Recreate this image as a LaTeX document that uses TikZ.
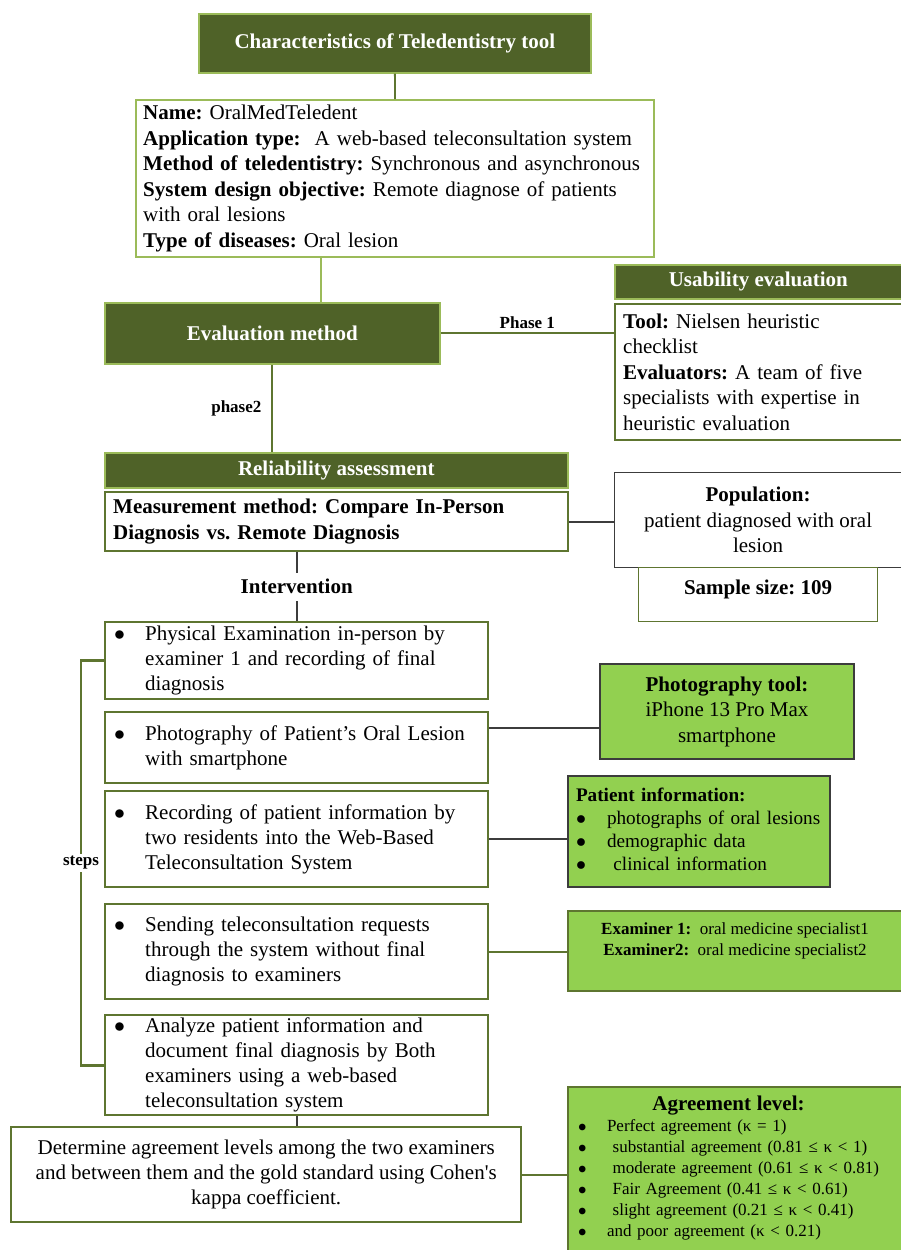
\documentclass[tikz,border=0pt]{standalone}
\usepackage{fontspec}
\setmainfont{Liberation Serif}
\usetikzlibrary{positioning, calc}
\definecolor{teleDark}{RGB}{79, 98, 40}
\definecolor{teleOlive}{RGB}{94, 117, 48}
\definecolor{teleLight}{RGB}{155, 187, 89}
\definecolor{teleGreen}{RGB}{146, 208, 80}
\definecolor{teleGray}{RGB}{60, 60, 60}
\newcommand{\mainsize}{\fontsize{10.5}{12.75}\selectfont}
\newcommand{\stepsize}{\fontsize{10.5}{12.5}\selectfont}
\newcommand{\notesize}{\fontsize{8.5}{10.5}\selectfont}
\newcommand{\dotitem}{$\bullet$}
\frenchspacing

\begin{document}
\begin{tikzpicture}[
    x=0.5pt, y=-0.5pt,
    font=\mainsize,
    headbox/.style={
        draw=teleLight,
        fill=teleDark,
        line width=0.8pt,
        text=white,
        anchor=north west,
        inner sep=0pt,
        font=\mainsize\bfseries
    },
    infobox/.style={
        draw=teleLight,
        fill=white,
        line width=1.2pt,
        anchor=north west,
        align=left,
        inner xsep=3.5pt,
        inner ysep=1pt
    },
    stepbox/.style={
        draw=teleOlive,
        fill=white,
        line width=1.2pt,
        anchor=north west,
        align=left,
        minimum width=191.5pt,
        text width=182.5pt,
        inner xsep=4.5pt,
        inner ysep=0pt,
        font=\stepsize
    },
    notebox/.style={
        draw=teleGray,
        fill=white,
        line width=0.6pt,
        anchor=north west,
        align=center,
        inner sep=1pt
    },
    greenbox/.style={
        draw=teleGray,
        fill=teleGreen,
        line width=1pt,
        anchor=north west,
        inner sep=1pt
    },
    link/.style={draw=teleGray, line width=0.8pt},
    olivelink/.style={draw=teleOlive, line width=0.9pt},
    lightlink/.style={draw=teleLight, line width=0.9pt},
    tag/.style={font=\notesize\bfseries, fill=white, inner sep=1pt}
]
\fill[white] (0,0) rectangle (901,1250);
\useasboundingbox (0,0) rectangle (901,1250);

% Tool characteristics
\node[headbox, minimum width=196pt, minimum height=29.5pt] (title) at (198,13) {Characteristics of Teledentistry tool};
\node[infobox, text width=252pt, minimum width=259pt, minimum height=78.5pt] (chars) at (135,99)
    {\textbf{Name:} OralMedTeledent\\
     \textbf{Application type:}\ \ A web-based teleconsultation system\\
     \textbf{Method of teledentistry:} Synchronous and asynchronous\\
     \textbf{System design objective:} Remote diagnose of patients\\
     with oral lesions\\
     \textbf{Type of diseases:} Oral lesion};

% Evaluation, phase 1
\node[headbox, minimum width=167.5pt, minimum height=30.5pt] (evalm) at (104,302) {Evaluation method};
\node[headbox, minimum width=143.5pt, minimum height=17pt] (usehead) at (614,264) {Usability evaluation};
\node[infobox, draw=teleOlive, text width=135.5pt, minimum width=143.5pt, minimum height=68pt, inner xsep=4pt] (usebody) at (614,303)
    {\textbf{Tool:} Nielsen heuristic\\
     checklist\\
     \textbf{Evaluators:} A team of five\\
     specialists with expertise in\\
     heuristic evaluation};

% Reliability, phase 2
\node[headbox, minimum width=231.5pt, minimum height=17.5pt] (relhead) at (104,452) {Reliability assessment};
\node[infobox, draw=teleOlive, font=\mainsize\bfseries, text width=223.5pt, minimum width=231.5pt, minimum height=29.5pt, inner xsep=4pt] (measure) at (104,491)
    {Measurement method: Compare In-Person\\ Diagnosis vs. Remote Diagnosis};
\node[notebox, minimum width=143.5pt, minimum height=47.5pt] (popul) at (614,472)
    {\textbf{Population:}\\ patient diagnosed with oral\\ lesion};
\node[notebox, draw=teleOlive, minimum width=119.5pt, minimum height=27pt,
      label={[font=\mainsize\bfseries, anchor=north, yshift=-3pt]north:Sample size: 109}] (sample) at (638,567) {};

% Steps
\node[stepbox, minimum height=38.5pt] (s1) at (104,621)
    {\begin{tabular}{@{}p{15.5pt}@{}l@{}}
     \dotitem & Physical Examination in-person by\\
     & examiner 1 and recording of final\\
     & diagnosis
     \end{tabular}};
\node[stepbox, minimum height=35.5pt] (s2) at (104,711)
    {\begin{tabular}{@{}p{15.5pt}@{}l@{}}
     \dotitem & Photography of Patient's Oral Lesion\\
     & with smartphone
     \end{tabular}};
\node[stepbox, minimum height=48pt] (s3) at (104,790)
    {\begin{tabular}{@{}p{15.5pt}@{}l@{}}
     \dotitem & Recording of patient information by\\
     & two residents into the Web-Based\\
     & Teleconsultation System
     \end{tabular}};
\node[stepbox, minimum height=47.5pt] (s4) at (104,903)
    {\begin{tabular}{@{}p{15.5pt}@{}l@{}}
     \dotitem & Sending teleconsultation requests\\
     & through the system without final\\
     & diagnosis to examiners
     \end{tabular}};
\node[stepbox, minimum height=48pt] (s5) at (104,1014)
    {\begin{tabular}{@{}p{15.5pt}@{}l@{}}
     \dotitem & Analyze patient information and\\
     & document final diagnosis by Both\\
     & examiners using a web-based\\
     & teleconsultation system
     \end{tabular}};

% Side notes
\node[greenbox, align=center, minimum width=127pt, minimum height=47.5pt] (photo) at (599,663)
    {\textbf{Photography tool:}\\ iPhone 13 Pro Max\\ smartphone};
\node[greenbox, align=left, font=\fontsize{9.6}{11.5}\selectfont, text width=123pt, minimum width=131pt, minimum height=55.5pt, inner xsep=4pt] (patinfo) at (567,775)
    {\begin{tabular}{@{}p{15.5pt}@{}l@{}}
     \multicolumn{2}{@{}l@{}}{\textbf{Patient information:}}\\
     \dotitem & photographs of oral lesions\\
     \dotitem & demographic data\\
     \dotitem & \ clinical information
     \end{tabular}};
\node[greenbox, draw=teleOlive, minimum width=167pt, minimum height=40pt,
      label={[font=\notesize, align=center, anchor=north, yshift=-3pt]north:{\textbf{Examiner 1:}\ \ oral medicine specialist1\\ \textbf{Examiner2:}\ \ oral medicine specialist2}}] (exam) at (567,910) {};

% Agreement
\node[notebox, draw=teleOlive, line width=1.2pt, minimum width=255pt, minimum height=47.5pt, font=\fontsize{10.5}{12.5}\selectfont] (final) at (10,1126)
    {Determine agreement levels among the two examiners\\
     and between them and the gold standard using Cohen\textquotesingle s\\
     kappa coefficient.};
\node[greenbox, draw=teleOlive, align=left, font=\notesize, text width=157pt, minimum width=167pt, minimum height=82pt, inner xsep=5pt] (agree) at (567,1086)
    {\begin{tabular}{@{}p{14.5pt}@{}l@{}}
     \multicolumn{2}{@{}c@{}}{\fontsize{10.5}{13}\selectfont\bfseries Agreement level:}\\
     \dotitem & Perfect agreement (κ = 1)\\
     \dotitem & \ substantial agreement (0.81 ≤ κ < 1)\\
     \dotitem & \ moderate agreement (0.61 ≤ κ < 0.81)\\
     \dotitem & \ Fair Agreement (0.41 ≤ κ < 0.61)\\
     \dotitem & \ slight agreement (0.21 ≤ κ < 0.41)\\
     \dotitem & and poor agreement (κ < 0.21)
     \end{tabular}};

% Connectors
\draw[olivelink] (title) -- (chars);
\draw[lightlink] ([xshift=-37pt]chars.south) coordinate (cl) -- (cl |- evalm.north);
\draw[olivelink] (evalm.east) -- (evalm.east -| usebody.west) node[midway, above=1pt, tag] {Phase 1};
\draw[olivelink] (evalm.south) -- (evalm.south |- relhead.north) node[midway, left=4pt, tag] {phase2};
\draw[link] (measure.east) -- (measure.east -| popul.west);
\draw[link] (s1.north |- measure.south) -- (s1.north) node[midway, fill=white, font=\mainsize\bfseries] {Intervention};
\draw[olivelink, line width=1.3pt] (s1.west) -- ++(-23,0) |- (s5.west) node[pos=0.25, tag] {steps};
\draw[link] ([yshift=9.75pt]s2.east) coordinate (p2) -- (p2 -| photo.west);
\draw[link] (s3.east) -- (s3.east -| patinfo.west);
\draw[olivelink] (s4.east) -- (s4.east -| exam.west);
\draw[link] (s5.south) -- (s5.south |- final.north);
\draw[olivelink] (final.east) -- (final.east -| agree.west);

\end{tikzpicture}
\end{document}
